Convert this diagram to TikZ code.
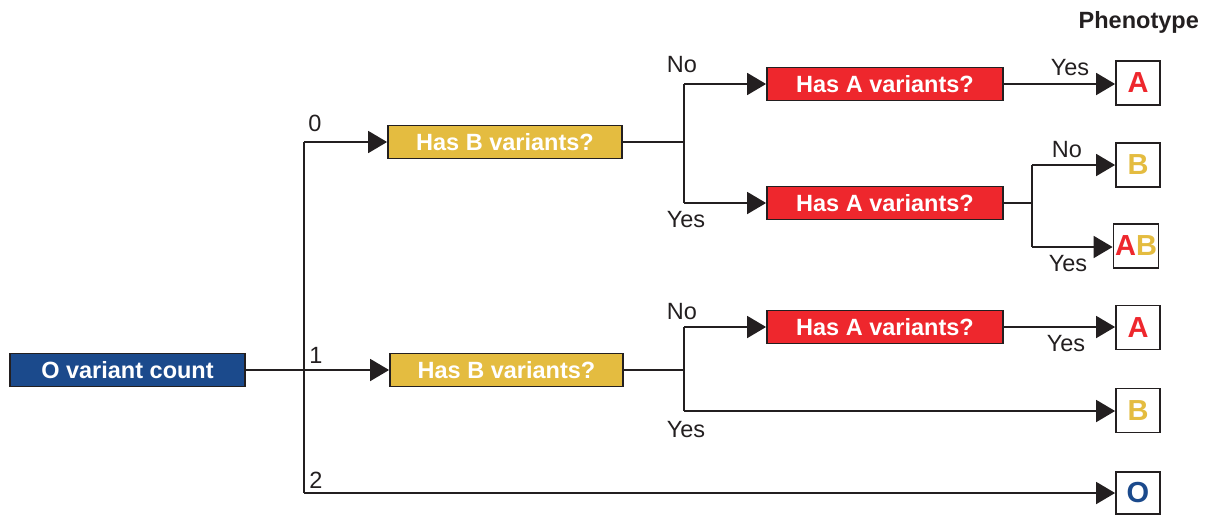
\documentclass[tikz,border=0pt]{standalone}
\usepackage{fontspec}
\setmainfont{Liberation Sans}
\usetikzlibrary{arrows.meta}
\definecolor{cblue}{RGB}{27,74,140}
\definecolor{cyel}{RGB}{228,188,64}
\definecolor{cred}{RGB}{238,39,45}
\definecolor{cdark}{RGB}{35,31,32}
\tikzset{
  qbox/.style={draw=cdark, line width=1.8pt, inner sep=0pt, minimum width=235pt, minimum height=33pt,
    text=white, font=\fontsize{23.5}{27}\selectfont\bfseries},
  pbox/.style={draw=cdark, line width=1.8pt, fill=white, inner sep=0pt, minimum width=44pt, minimum height=44pt,
    font=\fontsize{29}{33}\selectfont\bfseries},
  conn/.style={draw=cdark, line width=1.8pt},
  arr/.style={conn, -{Triangle[length=19pt,width=22pt]}},
  lbl/.style={text=cdark, inner sep=0pt, font=\fontsize{23.5}{27}\selectfont}
}
\begin{document}
\begin{tikzpicture}[x=1pt,y=-1pt]
\useasboundingbox (0,0) rectangle (1210,515);
% question boxes
\node[qbox, fill=cblue] (oc) at (127.5,370) {O variant count};
\node[qbox, fill=cyel, minimum width=234pt] (hb1) at (505,142) {Has B variants?};
\node[qbox, fill=cyel, minimum width=233pt] (hb2) at (506.5,370) {Has B variants?};
\node[qbox, fill=cred, minimum width=236pt] (ha1) at (885,84) {Has A variants?};
\node[qbox, fill=cred, minimum width=236pt] (ha2) at (885,203) {Has A variants?};
\node[qbox, fill=cred, minimum width=236pt] (ha3) at (885,327) {Has A variants?};
% phenotype boxes
\node[pbox, text=cred] (pA1) at (1138,83) {A};
\node[pbox, text=cyel] (pB1) at (1138,165) {B};
\node[pbox, minimum width=45pt] (pAB) at (1136,246) {\textcolor{cred}{A}\textcolor{cyel}{B}};
\node[pbox, text=cred] (pA2) at (1138,327.5) {A};
\node[pbox, text=cyel] (pB2) at (1138,410.5) {B};
\node[pbox, text=cblue, minimum height=42pt] (pO) at (1138,493) {O};
\node[lbl, font=\fontsize{23.5}{27}\selectfont\bfseries, anchor=east] (ph) at (1199,22) {Phenotype};
% junction coordinates
\coordinate (j0) at (304,142);
\coordinate (j2) at (304,493);
\coordinate (k1) at (684,84);
\coordinate (k2) at (684,203);
\coordinate (m1) at (1032,165);
\coordinate (m2) at (1032,247);
\coordinate (n1) at (684,327);
\coordinate (n2) at (684,411);
% connectors
\draw[conn] (j0) -- (j2);
\draw[arr] (oc.east) -- (hb2.west);
\draw[arr] (j0) -- (hb1.west);
\draw[arr] (j2) -- (pO.west);
\draw[conn] (hb1.east) -- (hb1.east -| k1);
\draw[conn] (k1) -- (k2);
\draw[arr] (k1) -- (ha1.west);
\draw[arr] (k2) -- (ha2.west);
\draw[arr] (ha1.east) -- (ha1.east -| pA1.west);
\draw[conn] (ha2.east) -- (ha2.east -| m1);
\draw[conn] (m1) -- (m2);
\draw[arr] (m1) -- (m1 -| pB1.west);
\draw[arr] (m2) -- (m2 -| pAB.west);
\draw[conn] (hb2.east) -- (hb2.east -| n1);
\draw[conn] (n1) -- (n2);
\draw[arr] (n1) -- (ha3.west);
\draw[arr] (n2) -- (n2 -| pB2.west);
\draw[arr] (ha3.east) -- (ha3.east -| pA2.west);
% labels
\node[lbl] (l0) at (315,123) {0};
\node[lbl] (l1) at (316,355) {1};
\node[lbl] (l2) at (316,480) {2};
\node[lbl] (lno1) at (682,65) {No};
\node[lbl] (lyes1) at (686,220) {Yes};
\node[lbl] (lyes2) at (1070,68) {Yes};
\node[lbl] (lno2) at (1067,150) {No};
\node[lbl] (lyes3) at (1068,264) {Yes};
\node[lbl] (lno3) at (682,312) {No};
\node[lbl] (lyes4) at (686,430) {Yes};
\node[lbl] (lyes5) at (1066,344) {Yes};
\end{tikzpicture}
\end{document}
